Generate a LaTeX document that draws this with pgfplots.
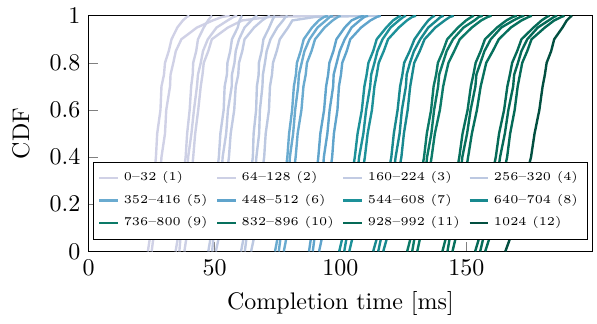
\documentclass[border=0pt]{standalone}
\usepackage{pgfplots}
\usepackage{pgfplotstable}
\pgfplotsset{compat=1.18}

\definecolor{c1}{HTML}{D0D1E6}
\definecolor{c2}{HTML}{CDD0E5}
\definecolor{c3}{HTML}{C2CBE3}
\definecolor{c4}{HTML}{BCC8E1}
\definecolor{c5}{HTML}{6AABD0}
\definecolor{c6}{HTML}{60A4CC}
\definecolor{c7}{HTML}{1D9199}
\definecolor{c8}{HTML}{18898F}
\definecolor{c9}{HTML}{0C7A68}
\definecolor{c10}{HTML}{07705D}
\definecolor{c11}{HTML}{056A57}
\definecolor{c12}{HTML}{024F40}

% group 1: two curves
\pgfplotstableread{
y     a     b
0     23.5  25.0
0.05  24.2  25.6
0.10  24.3  26.4
0.20  25.4  27.1
0.30  25.8  28.3
0.40  26.7  28.9
0.50  27.2  30.3
0.60  28.5  30.8
0.70  28.9  32.3
0.75  29.9  32.5
0.80  30.3  33.6
0.85  31.8  34.6
0.90  32.9  36.8
0.95  35.2  43.0
0.98  37.4  49.3
0.995 39.0  53.0
1.00  40.0  56.0
}\gA
\pgfplotstableread{
y     a     b     c
0     34.5  36.0  38.0
0.05  35.3  36.4  38.7
0.10  35.5  37.4  38.9
0.20  36.8  37.8  40.0
0.30  37.3  39.0  40.6
0.40  38.5  39.5  41.5
0.50  39.1  40.8  42.3
0.60  40.1  41.8  43.5
0.70  40.7  43.0  44.5
0.75  41.3  43.4  45.2
0.80  41.5  44.5  45.7
0.85  42.7  45.4  47.5
0.90  43.4  47.3  48.9
0.95  45.7  50.8  55.3
0.98  47.4  55.2  61.0
0.995 48.5  57.5  72.0
1.00  49.0  59.0  96.0
}\gB
\pgfplotstableread{
y     a     b     c
0     47.5  49.0  50.5
0.05  48.3  49.5  51.5
0.10  48.6  50.6  51.9
0.20  49.9  51.3  53.5
0.30  50.5  52.6  54.5
0.40  51.7  53.2  55.7
0.50  52.3  54.6  56.4
0.60  53.6  55.3  57.8
0.70  54.0  56.8  58.4
0.75  54.9  56.9  59.4
0.80  55.1  57.9  59.7
0.85  56.2  58.4  61.0
0.90  56.9  59.7  61.9
0.95  59.2  61.9  65.7
0.98  59.9  64.6  68.9
0.995 60.6  66.0  71.0
1.00  61.0  67.0  72.0
}\gC
\pgfplotstableread{
y     a     b     c
0     60.5  62.0  64.5
0.05  61.4  62.6  65.5
0.10  61.8  63.7  65.9
0.20  63.2  64.5  67.5
0.30  64.0  65.9  68.4
0.40  65.2  66.6  69.7
0.50  65.5  67.7  70.3
0.60  66.5  68.0  71.6
0.70  66.8  69.0  72.0
0.75  67.5  69.2  72.8
0.80  67.6  70.0  73.2
0.85  68.7  70.7  74.7
0.90  69.4  72.2  75.9
0.95  71.7  74.9  79.2
0.98  72.9  77.2  80.9
0.995 73.6  78.2  90.0
1.00  74.0  79.0  116.0
}\gD
\pgfplotstableread{
y     a     b     c
0     74.0  75.5  77.5
0.05  74.9  76.1  78.4
0.10  75.3  77.1  78.8
0.20  76.8  77.9  80.2
0.30  77.7  79.4  81.0
0.40  78.9  79.9  82.2
0.50  79.6  81.2  83.0
0.60  80.8  82.0  84.5
0.70  81.5  83.2  85.3
0.75  82.3  83.5  86.2
0.80  82.7  84.6  86.7
0.85  84.2  85.7  88.5
0.90  85.4  87.7  89.9
0.95  88.7  90.9  93.7
0.98  91.4  94.2  96.9
0.995 93.5  95.8  99.0
1.00  95.0  97.0  100.0
}\gE
\pgfplotstableread{
y     a     b     c
0     87.5  89.0  91.5
0.05  88.2  89.6  92.5
0.10  88.5  90.6  92.9
0.20  89.6  91.4  94.5
0.30  90.2  92.8  95.4
0.40  91.2  93.4  96.7
0.50  92.0  94.8  97.4
0.60  93.5  95.7  98.8
0.70  94.3  97.1  99.4
0.75  95.1  97.3  100.2
0.80  95.6  98.5  100.7
0.85  97.2  99.7  102.5
0.90  98.4  101.7 103.9
0.95  101.7 104.4 108.2
0.98  104.4 107.7 111.9
0.995 107.5 109.5 114.5
1.00  109.5 111.0 116.0
}\gF
\pgfplotstableread{
y     a     b     c
0     99.5  101.5 103.5
0.05  100.6 102.3 104.6
0.10  101.2 103.5 105.2
0.20  103.0 104.7 107.0
0.30  104.2 106.5 108.2
0.40  105.7 107.4 109.7
0.50  106.8 109.1 110.8
0.60  108.5 110.2 112.5
0.70  109.5 111.8 113.5
0.75  110.4 112.2 114.4
0.80  111.1 113.5 115.2
0.85  113.0 114.7 117.2
0.90  114.4 116.7 118.9
0.95  118.2 119.9 123.2
0.98  120.9 123.2 126.4
0.995 123.0 125.0 128.5
1.00  124.0 126.0 130.0
}\gG
\pgfplotstableread{
y     a     b     c
0     113.0 115.0 117.0
0.05  114.3 116.0 118.3
0.10  115.0 117.3 119.0
0.20  117.1 118.8 121.1
0.30  118.5 120.8 122.5
0.40  120.2 121.9 124.2
0.50  121.2 123.5 125.2
0.60  122.7 124.4 126.7
0.70  123.7 126.0 127.7
0.75  124.6 126.3 128.5
0.80  125.3 127.6 129.3
0.85  127.5 129.2 131.5
0.90  129.4 131.7 133.4
0.95  132.7 134.9 137.7
0.98  134.9 138.2 141.4
0.995 136.5 139.8 143.5
1.00  137.5 141.0 145.0
}\gH
\pgfplotstableread{
y     a     b     c
0     126.5 128.5 130.5
0.05  127.7 129.3 131.5
0.10  128.4 130.5 132.1
0.20  130.3 131.7 133.7
0.30  131.6 133.5 134.8
0.40  133.2 134.4 136.2
0.50  134.3 136.1 137.5
0.60  136.0 137.2 139.5
0.70  137.0 138.8 140.8
0.75  138.0 139.2 141.8
0.80  138.7 140.7 142.9
0.85  140.7 142.2 145.2
0.90  142.4 144.7 147.4
0.95  146.7 148.9 152.2
0.98  149.9 153.2 155.9
0.995 152.0 155.0 158.5
1.00  153.0 156.5 160.0
}\gI
\pgfplotstableread{
y     a     b     c
0     140.5 142.5 144.5
0.05  141.7 143.3 145.6
0.10  142.4 144.5 146.2
0.20  144.3 145.7 148.0
0.30  145.6 147.5 149.2
0.40  147.2 148.4 150.7
0.50  148.5 150.3 152.2
0.60  150.5 151.7 154.2
0.70  151.8 153.6 155.7
0.75  152.8 154.0 156.8
0.80  153.7 155.6 157.9
0.85  155.7 157.2 160.5
0.90  157.4 159.7 162.9
0.95  162.2 163.9 167.7
0.98  165.9 168.7 171.9
0.995 168.5 171.5 174.8
1.00  170.0 173.0 176.0
}\gJ
\pgfplotstableread{
y     a     b     c
0     153.5 155.5 157.5
0.05  154.9 156.6 159.0
0.10  155.8 158.1 160.0
0.20  158.1 159.8 162.4
0.30  159.8 162.1 164.2
0.40  161.7 163.4 166.2
0.50  163.0 165.3 167.4
0.60  165.0 166.7 169.2
0.70  166.3 168.6 170.4
0.75  167.3 169.0 171.3
0.80  168.2 170.5 172.2
0.85  170.2 171.9 174.2
0.90  171.9 174.2 175.9
0.95  176.7 178.4 181.2
0.98  179.9 182.7 184.9
0.995 182.0 184.8 187.8
1.00  183.0 186.0 189.0
}\gK
\pgfplotstableread{
y     a
0     165.5
0.05  167.2
0.10  168.3
0.20  171.0
0.30  173.3
0.40  175.7
0.50  177.1
0.60  179.0
0.70  180.3
0.75  181.2
0.80  181.9
0.85  183.7
0.90  184.9
0.95  188.2
0.98  189.9
0.995 191.3
1.00  192.0
}\gL

\begin{document}
\begin{tikzpicture}
\begin{axis}[
  scale only axis,
  width=210pt, height=98.3pt,
  xmin=0, xmax=200, ymin=0, ymax=1,
  xtick={0,50,100,150},
  ytick={0,0.2,0.4,0.6,0.8,1},
  tick pos=left,
  tick style={gray},
  major tick length=4pt,
  xlabel={Completion time [ms]},
  ylabel={CDF},
  ylabel style={yshift=1.5pt},
  every axis plot/.append style={line width=1pt},
  legend columns=4,
  legend cell align=left,
  legend style={font=\tiny, at={(0.5,0.05)}, anchor=south,
    draw=black, fill=white, row sep=0.2pt, inner xsep=2pt, inner ysep=2pt,
    /tikz/every odd column/.append style={column sep=0pt},
    /tikz/every even column/.append style={column sep=1.5pt}},
  legend image code/.code={\draw[#1] (0cm,0cm) -- (0.27cm,0cm);},
]
\addplot[c1] table[x=a,y=y]{\gA}; \addlegendentry{0--32 (1)}
\addplot[c1,forget plot] table[x=b,y=y]{\gA};

\addplot[c2] table[x=a,y=y]{\gB}; \addlegendentry{64--128 (2)}
\addplot[c2,forget plot] table[x=b,y=y]{\gB};
\addplot[c2,forget plot] table[x=c,y=y]{\gB};

\addplot[c3] table[x=a,y=y]{\gC}; \addlegendentry{160--224 (3)}
\addplot[c3,forget plot] table[x=b,y=y]{\gC};
\addplot[c3,forget plot] table[x=c,y=y]{\gC};

\addplot[c4] table[x=a,y=y]{\gD}; \addlegendentry{256--320 (4)}
\addplot[c4,forget plot] table[x=b,y=y]{\gD};
\addplot[c4,forget plot] table[x=c,y=y]{\gD};

\addplot[c5] table[x=a,y=y]{\gE}; \addlegendentry{352--416 (5)}
\addplot[c5,forget plot] table[x=b,y=y]{\gE};
\addplot[c5,forget plot] table[x=c,y=y]{\gE};

\addplot[c6] table[x=a,y=y]{\gF}; \addlegendentry{448--512 (6)}
\addplot[c6,forget plot] table[x=b,y=y]{\gF};
\addplot[c6,forget plot] table[x=c,y=y]{\gF};

\addplot[c7] table[x=a,y=y]{\gG}; \addlegendentry{544--608 (7)}
\addplot[c7,forget plot] table[x=b,y=y]{\gG};
\addplot[c7,forget plot] table[x=c,y=y]{\gG};

\addplot[c8] table[x=a,y=y]{\gH}; \addlegendentry{640--704 (8)}
\addplot[c8,forget plot] table[x=b,y=y]{\gH};
\addplot[c8,forget plot] table[x=c,y=y]{\gH};

\addplot[c9] table[x=a,y=y]{\gI}; \addlegendentry{736--800 (9)}
\addplot[c9,forget plot] table[x=b,y=y]{\gI};
\addplot[c9,forget plot] table[x=c,y=y]{\gI};

\addplot[c10] table[x=a,y=y]{\gJ}; \addlegendentry{832--896 (10)}
\addplot[c10,forget plot] table[x=b,y=y]{\gJ};
\addplot[c10,forget plot] table[x=c,y=y]{\gJ};

\addplot[c11] table[x=a,y=y]{\gK}; \addlegendentry{928--992 (11)}
\addplot[c11,forget plot] table[x=b,y=y]{\gK};
\addplot[c11,forget plot] table[x=c,y=y]{\gK};

\addplot[c12] table[x=a,y=y]{\gL}; \addlegendentry{1024 (12)}
\end{axis}
\path (current axis.north east) -- ++(2pt,0);
\path (current axis.south west) -- ++(-37pt,0);
\end{tikzpicture}
\end{document}
